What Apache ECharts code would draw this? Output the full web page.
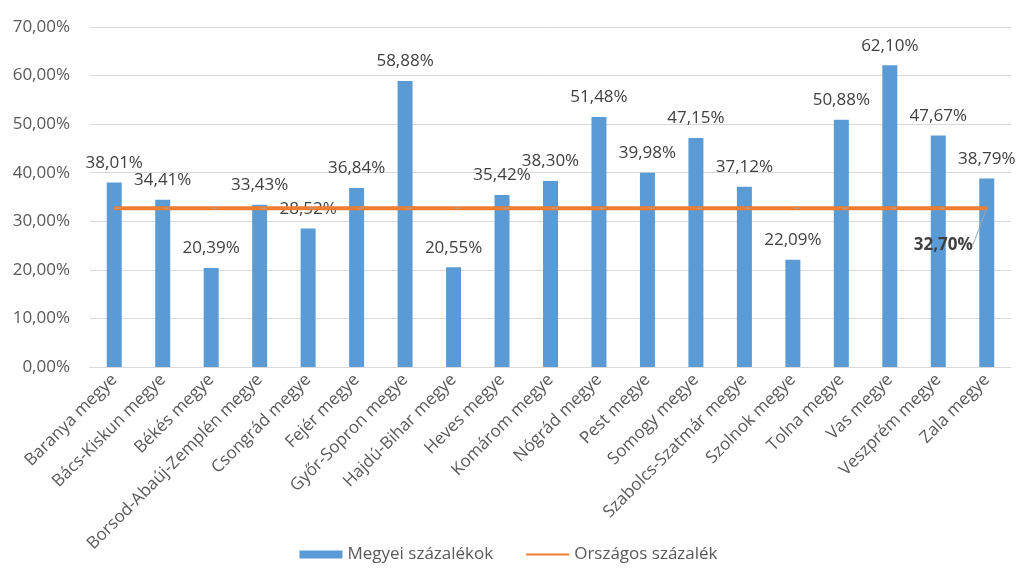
<!DOCTYPE html>
<html><head><meta charset="utf-8">
<script src="https://cdn.jsdelivr.net/npm/echarts@6/dist/echarts.min.js"></script>
<style>html,body{margin:0;padding:0;background:#fff}#c{width:1017px;height:582px}</style>
</head><body><div id="c"></div>
<script>
const categories = ["Baranya megye","Bács-Kiskun megye","Békés megye","Borsod-Abaúj-Zemplén megye","Csongrád megye","Fejér megye","Győr-Sopron megye","Hajdú-Bihar megye","Heves megye","Komárom megye","Nógrád megye","Pest megye","Somogy megye","Szabolcs-Szatmár megye","Szolnok megye","Tolna megye","Vas megye","Veszprém megye","Zala megye"];
const countyValues = [38.01,34.41,20.39,33.43,28.52,36.84,58.88,20.55,35.42,38.30,51.48,39.98,47.15,37.12,22.09,50.88,62.10,47.67,38.79];
const nationalValue = 32.70;
const nationalValues = categories.map(() => nationalValue);
const yTicks = [0,10,20,30,40,50,60,70];

const fmt = v => v.toFixed(2).replace('.', ',') + '%';
const FONT = 'Open Sans';
const last = categories.length - 1;
const chart = echarts.init(document.getElementById('c'));
chart.setOption({
  animation: false,
  textStyle: {fontFamily: FONT},
  grid: {left: 90, right: 6, top: 27, bottom: 215, containLabel: false},
  legend: {
    bottom: 14, left: 'center', itemGap: 32, itemWidth: 43, itemHeight: 8,
    textStyle: {fontFamily: FONT, fontSize: 17, color: '#595959'},
    data: [{name: 'Megyei százalékok', icon: 'rect'}, {name: 'Országos százalék', itemStyle: {opacity: 0}}]
  },
  xAxis: {
    type: 'category', data: categories, boundaryGap: true,
    axisLine: {lineStyle: {color: '#D9D9D9', width: 1}},
    axisTick: {show: false},
    axisLabel: {rotate: 45, interval: 0, fontFamily: FONT, fontSize: 17, color: '#595959', margin: 10}
  },
  yAxis: {
    type: 'value', min: yTicks[0], max: yTicks[yTicks.length-1], interval: 10,
    axisLine: {show: false}, axisTick: {show: false},
    splitLine: {lineStyle: {color: '#D9D9D9', width: 1}},
    axisLabel: {formatter: fmt, fontFamily: FONT, fontSize: 17, color: '#595959', margin: 20}
  },
  series: [
    {
      name: 'Megyei százalékok', type: 'bar', data: countyValues, barWidth: 15,
      itemStyle: {color: '#5B9BD5'},
      label: {show: true, position: 'top', distance: 11, formatter: p => fmt(p.value),
        fontFamily: FONT, fontSize: 17, color: '#404040'}
    },
    {
      name: 'Országos százalék', type: 'line', data: nationalValues,
      symbol: 'circle', symbolSize: 2, showSymbol: true, z: 5,
      lineStyle: {color: '#ED7D31', width: 4},
      itemStyle: {color: '#ED7D31'},
      label: {show: true, position: 'right',
        formatter: p => p.dataIndex === last ? fmt(p.value) : '',
        fontFamily: FONT, fontSize: 17, fontWeight: 'bold', color: '#404040'},
      labelLayout: p => p.dataIndex === last ? {
        x: p.rect.x + p.rect.width / 2 - 14, y: p.rect.y + p.rect.height / 2 + 37,
        align: 'right', verticalAlign: 'middle'} : {},
      labelLine: {show: true, lineStyle: {color: '#A6A6A6', width: 1}}
    }
  ]
});
</script></body></html>
